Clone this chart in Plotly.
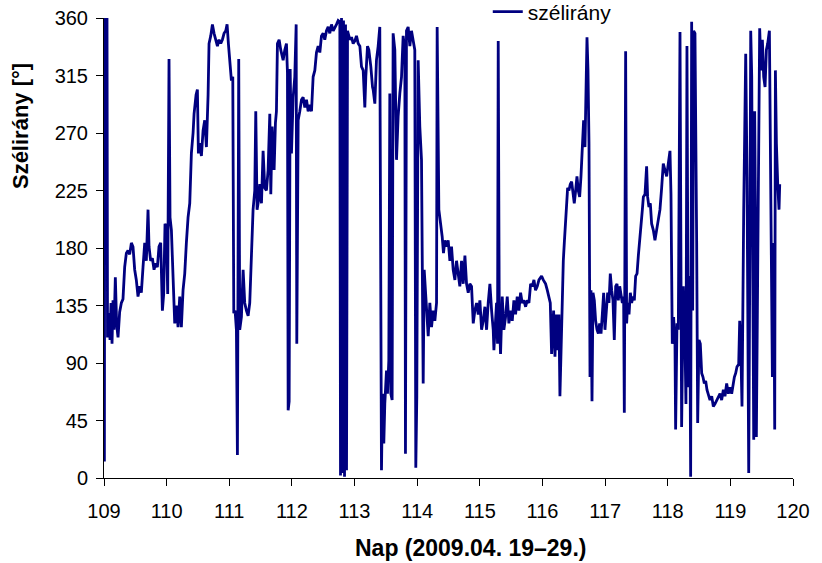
import plotly.graph_objects as go

# Wind direction record, day-of-year 109-119 (2009.04.19-29.)
# Each block: day-of-year values and wind direction in degrees.
day_a = [109.000, 109.006, 109.013, 109.048, 109.056, 109.080, 109.096, 109.112, 109.128, 109.144,
         109.160, 109.181, 109.202, 109.224, 109.250, 109.277, 109.303, 109.330, 109.357, 109.383,
         109.410, 109.437, 109.463, 109.490, 109.516, 109.543, 109.570, 109.596, 109.623, 109.650,
         109.676, 109.703, 109.719, 109.745, 109.772, 109.799, 109.825, 109.852, 109.878, 109.905,
         109.932, 109.953, 109.974, 109.996, 110.017, 110.038, 110.054, 110.076, 110.102, 110.129,
         110.155, 110.182, 110.209, 110.235, 110.262, 110.289, 110.315, 110.342]
dir_a = [340, 13, 360, 360, 110, 129, 108, 137, 105, 139,
         116, 157, 120, 110, 130, 137, 140, 165, 176, 178,
         175, 184, 181, 163, 155, 142, 150, 145, 165, 184,
         170, 210, 181, 170, 172, 163, 168, 165, 181, 184,
         131, 144, 199, 195, 144, 328, 204, 194, 158, 121,
         135, 118, 142, 118, 147, 160, 184, 204]

day_b = [110.369, 110.395, 110.422, 110.438, 110.470, 110.491, 110.507, 110.528, 110.555, 110.582,
         110.608, 110.635, 110.662, 110.677, 110.704, 110.731, 110.757, 110.784, 110.811, 110.837,
         110.864, 110.890, 110.917, 110.944, 110.965, 110.986, 111.008, 111.034, 111.056, 111.072,
         111.093, 111.114, 111.130, 111.141, 111.151, 111.167, 111.194, 111.221, 111.247, 111.274,
         111.301, 111.327, 111.354, 111.380, 111.407, 111.423, 111.444, 111.466, 111.487, 111.514,
         111.540, 111.567, 111.593, 111.620, 111.647, 111.663, 111.684, 111.716, 111.737, 111.753,
         111.769, 111.796, 111.822, 111.849]
dir_b = [215, 254, 270, 285, 300, 304, 254, 262, 252, 272,
         280, 259, 300, 340, 346, 355, 348, 343, 338, 343,
         340, 343, 348, 350, 355, 340, 325, 311, 314, 129,
         131, 116, 18, 126, 328, 116, 126, 163, 137, 131,
         127, 137, 184, 210, 225, 287, 210, 217, 230, 215,
         256, 227, 225, 241, 285, 222, 275, 241, 278, 287,
         340, 343, 335, 327]

day_c = [111.860, 111.886, 111.913, 111.929, 111.940, 111.956, 111.972, 111.993, 112.020, 112.046,
         112.068, 112.078, 112.100, 112.126, 112.153, 112.179, 112.206, 112.233, 112.259, 112.286,
         112.313, 112.339, 112.366, 112.392, 112.419, 112.446, 112.472, 112.499, 112.525, 112.552,
         112.579, 112.605, 112.632, 112.659, 112.685, 112.712, 112.739, 112.765, 112.776, 112.792,
         112.808, 112.824, 112.840, 112.856, 112.872, 112.888, 112.925, 112.952, 112.978, 113.005,
         113.031, 113.058, 113.085, 113.111, 113.138, 113.164, 113.180, 113.207, 113.228, 113.260,
         113.287]
dir_c = [327, 335, 340, 317, 53, 60, 320, 254, 298, 314,
         355, 105, 280, 287, 296, 298, 290, 296, 287, 292,
         287, 314, 319, 333, 338, 333, 346, 348, 343, 350,
         353, 348, 355, 350, 352, 355, 358, 357, 2, 360,
         4, 358, 1, 355, 6, 350, 343, 345, 340, 342,
         346, 340, 338, 322, 319, 290, 314, 338, 335, 322,
         306]

day_d = [113.297, 113.324, 113.350, 113.377, 113.403, 113.430, 113.446, 113.467, 113.483, 113.510,
         113.526, 113.547, 113.563, 113.579, 113.600, 113.616, 113.643, 113.670, 113.696, 113.723,
         113.750, 113.776, 113.803, 113.813, 113.829, 113.856, 113.883, 113.909, 113.936, 113.962,
         113.978, 113.994, 114.016, 114.042, 114.069, 114.096, 114.112, 114.133, 114.149, 114.176,
         114.202, 114.229, 114.255, 114.282, 114.309, 114.319, 114.346, 114.378, 114.399, 114.420,
         114.442, 114.468, 114.495, 114.522, 114.548, 114.575, 114.602, 114.628, 114.655, 114.681,
         114.708, 114.735]
dir_d = [304, 293, 327, 338, 353, 6, 66, 27, 58, 84,
         66, 92, 301, 66, 61, 348, 335, 249, 283, 301,
         314, 346, 335, 19, 350, 353, 338, 350, 343, 335,
         8, 64, 327, 275, 249, 74, 163, 145, 131, 111,
         137, 118, 131, 123, 137, 353, 210, 199, 189, 176,
         186, 181, 186, 170, 181, 163, 155, 170, 160, 150,
         170, 152]

day_e = [114.762, 114.788, 114.815, 114.841, 114.868, 114.895, 114.921, 114.948, 114.975, 115.001,
         115.028, 115.054, 115.081, 115.108, 115.134, 115.161, 115.188, 115.214, 115.225, 115.241,
         115.267, 115.283, 115.294, 115.310, 115.331, 115.358, 115.384, 115.411, 115.438, 115.464,
         115.491, 115.518, 115.544, 115.571, 115.597, 115.624, 115.651, 115.677, 115.704, 115.731,
         115.757, 115.784, 115.811, 115.837, 115.864, 115.890, 115.917, 115.944, 115.986, 116.013,
         116.050, 116.077, 116.103, 116.125, 116.146]
dir_e = [174, 152, 145, 152, 150, 121, 131, 137, 128, 139,
         116, 123, 134, 116, 137, 152, 131, 116, 100, 118,
         137, 105, 342, 131, 97, 142, 116, 126, 142, 121,
         131, 123, 139, 128, 142, 131, 145, 137, 139, 134,
         139, 137, 152, 150, 155, 147, 150, 155, 158, 155,
         152, 147, 142, 137, 97]

day_f = [116.178, 116.200, 116.221, 116.242, 116.263, 116.279, 116.295, 116.317, 116.333, 116.349,
         116.370, 116.386, 116.402, 116.423, 116.444, 116.466, 116.487, 116.508, 116.530, 116.551,
         116.572, 116.594, 116.615, 116.636, 116.657, 116.679, 116.695, 116.711, 116.727, 116.743,
         116.759, 116.775, 116.791, 116.807, 116.828, 116.849, 116.871, 116.892, 116.913, 116.935,
         116.956, 116.977, 116.998, 117.020, 117.041, 117.062, 117.083, 117.105, 117.126, 117.147,
         117.169, 117.190, 117.211, 117.233, 117.254, 117.275, 117.296, 117.307, 117.328, 117.344,
         117.360, 117.382, 117.403, 117.424, 117.446, 117.467, 117.488, 117.510, 117.531, 117.552,
         117.573, 117.595, 117.611]
dir_f = [131, 95, 128, 100, 128, 64, 100, 145, 170, 184,
         202, 210, 227, 225, 230, 232, 225, 215, 225, 236,
         225, 220, 236, 256, 280, 259, 301, 345, 319, 262,
         79, 147, 60, 145, 139, 123, 116, 113, 121, 113,
         128, 145, 116, 131, 145, 137, 160, 147, 139, 108,
         150, 152, 139, 150, 142, 137, 142, 51, 334, 121,
         137, 128, 145, 137, 142, 139, 158, 160, 174, 184,
         197, 210, 220]

day_g = [117.637, 117.663, 117.679, 117.700, 117.722, 117.743, 117.770, 117.796, 117.823, 117.850,
         117.876, 117.903, 117.929, 117.956, 117.983, 118.009, 118.036, 118.052, 118.073, 118.094,
         118.116, 118.126, 118.148, 118.169, 118.196, 118.222, 118.249, 118.276, 118.291, 118.307,
         118.329, 118.350, 118.366, 118.382, 118.398, 118.414, 118.435, 118.462, 118.478, 118.499,
         118.520, 118.542, 118.563, 118.584, 118.606, 118.627, 118.648, 118.675, 118.702, 118.728,
         118.755, 118.781, 118.808, 118.835, 118.861, 118.888, 118.914, 118.941, 118.968, 118.994,
         119.021]
dir_g = [222, 244, 220, 212, 215, 199, 194, 186, 194, 199,
         210, 227, 246, 241, 236, 246, 256, 222, 105, 126,
         105, 38, 121, 116, 349, 40, 150, 105, 58, 338,
         71, 158, 1, 357, 131, 350, 348, 184, 43, 108,
         105, 82, 79, 74, 76, 69, 66, 61, 64, 56,
         58, 61, 64, 66, 61, 69, 64, 74, 66, 71,
         66]

day_h = [119.042, 119.064, 119.085, 119.106, 119.133, 119.149, 119.165, 119.186, 119.213, 119.229,
         119.245, 119.266, 119.282, 119.293, 119.309, 119.325, 119.341, 119.357, 119.373, 119.388,
         119.404, 119.415, 119.436, 119.452, 119.468, 119.490, 119.511, 119.532, 119.554, 119.575,
         119.596, 119.623, 119.639, 119.655, 119.671, 119.692, 119.708, 119.719, 119.735, 119.756,
         119.777, 119.788]
dir_h = [74, 79, 82, 87, 89, 123, 105, 56, 210, 296,
         332, 236, 105, 4, 158, 350, 314, 184, 30, 287,
         184, 32, 184, 314, 352, 319, 343, 314, 306, 335,
         340, 350, 262, 131, 79, 184, 38, 319, 262, 230,
         210, 230]

y_ticks = [0, 45, 90, 135, 180, 225, 270, 315, 360]
x_ticks = list(range(109, 121))

days = day_a + day_b + day_c + day_d + day_e + day_f + day_g + day_h
directions = dir_a + dir_b + dir_c + dir_d + dir_e + dir_f + dir_g + dir_h

FONT = "Liberation Sans, Arial, sans-serif"

fig = go.Figure()
fig.add_trace(go.Scatter(
    x=days, y=directions, mode="lines", name="szélirány",
    line=dict(color="#000080", width=2.8),
))

axis_common = dict(
    showline=True, linecolor="black", linewidth=1,
    ticks="outside", ticklen=7, tickcolor="black", tickwidth=1,
    showgrid=False, zeroline=False,
    tickfont=dict(family=FONT, size=20, color="black"),
)

fig.update_layout(
    width=822, height=563,
    margin=dict(l=104, r=29, t=18, b=85, autoexpand=False),
    paper_bgcolor="white", plot_bgcolor="white",
    showlegend=True,
    legend=dict(x=0.557, y=1.013, xanchor="left", yanchor="middle",
                bgcolor="rgba(0,0,0,0)", font=dict(family=FONT, size=21, color="black")),
    xaxis=dict(range=[109, 120], tickvals=x_ticks, ticklabelstandoff=8, **axis_common),
    yaxis=dict(range=[0, 360], tickvals=y_ticks, ticklabelstandoff=4, **axis_common),
    annotations=[
        dict(text="<b>Nap (2009.04. 19–29.)</b>", xref="paper", yref="paper",
             x=0.532, y=-0.152, xanchor="center", yanchor="middle", showarrow=False,
             font=dict(family=FONT, size=23, color="black")),
        dict(text="<b>Szélirány [°]</b>", xref="paper", yref="paper", textangle=-90,
             x=-0.122, y=0.765, xanchor="center", yanchor="middle", showarrow=False,
             font=dict(family=FONT, size=22, color="black")),
    ],
)

fig.write_html("out.html")
